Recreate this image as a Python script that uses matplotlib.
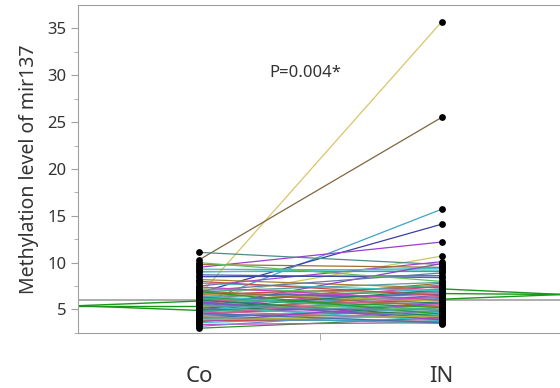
import matplotlib
matplotlib.use("Agg")
import matplotlib.pyplot as plt

plt.rcParams['font.family'] = ['Noto Sans', 'DejaVu Sans']

groups = ["Co", "IN"]

# paired values (Co, IN)
co = [6.5, 10.3, 5.6, 6.8, 9.5, 6.2, 11.1, 7.5, 9.3, 9.1, 9.0, 8.7, 8.2, 8.5, 5.2, 7.0,
      3.0, 3.4, 3.6, 3.8, 4.0, 4.1, 4.2, 4.3, 4.4, 4.5, 4.6, 4.7, 4.8, 4.9, 5.0, 5.0,
      5.1, 5.2, 5.3, 5.3, 5.4, 5.5, 5.5, 5.6, 5.7, 5.8, 5.8, 5.9, 6.0, 6.0, 6.1, 6.2,
      6.3, 6.4, 6.5, 6.6, 6.7, 6.8, 6.9, 7.0, 7.2, 3.2, 3.7, 4.0, 4.5, 5.1, 5.7, 6.2,
      6.9, 7.4, 7.8, 8.0, 3.9, 4.6, 5.4, 9.8, 10.0]
inn = [35.7, 25.5, 15.7, 14.1, 12.2, 10.7, 9.8, 10.1, 9.2, 9.1, 9.4, 8.4, 7.3, 8.6, 9.9, 8.9,
       4.1, 3.6, 4.4, 3.9, 4.6, 5.2, 3.5, 4.8, 6.1, 4.2, 5.5, 7.0, 4.0, 5.8, 6.5, 4.4,
       5.1, 7.5, 3.8, 6.0, 5.4, 6.8, 4.7, 7.8, 5.0, 6.3, 3.9, 7.2, 5.6, 4.3, 6.6, 7.6,
       5.2, 6.9, 4.6, 7.4, 5.9, 6.2, 7.9, 5.3, 6.7, 4.9, 5.7, 3.7, 6.4, 7.1, 4.1, 5.0,
       4.5, 6.0, 7.0, 6.5, 4.3, 3.6, 4.9, 9.5, 8.0]

top_colors = ["#d9c46a", "#806540", "#3ea3c6", "#3d3da6", "#9b3ed2", "#c9c85a", "#4f8a86",
              "#a046d0", "#3cbcc4", "#3aa0a8", "#48c0c8", "#4a5fb5", "#a8842f", "#3a48a0",
              "#9040c8", "#607aa0"]
palette = ["#2a9a2a", "#cc44bb", "#3cbfbf", "#c84c4c", "#b0b040", "#4a6fb0", "#5a9f9f",
           "#a07030", "#60c060", "#8080d0", "#9a3ed0", "#3fa2c4", "#d06090", "#208060",
           "#7060c0", "#40b080"]

# green reference lines and grand mean
left_green = [5.9, 5.4, 4.9]
right_green = [7.2, 6.7, 6.1]
grand_mean = 6.05

fig = plt.figure(figsize=(5.6, 3.88), dpi=100)
ax = fig.add_axes([0.139, 0.142, 0.866, 0.845])

ax.axhline(grand_mean, color="#a0a0a0", lw=1.2, zorder=1)
for y in left_green:
    ax.plot([0.5, 1], [5.4, y], color="#1a961a", lw=1.0, zorder=2)
for y in right_green:
    ax.plot([2, 2.5], [y, 6.6], color="#1a961a", lw=1.0, zorder=2)

for i, (a, b) in enumerate(zip(co, inn)):
    c = top_colors[i] if i < len(top_colors) else palette[i % len(palette)]
    ax.plot([1, 2], [a, b], color=c, lw=0.9, zorder=3)

ax.scatter([1] * len(co), co, s=24, color="black", zorder=4, lw=0)
ax.scatter([2] * len(inn), inn, s=24, color="black", zorder=4, lw=0)

ax.text(1.29, 30.2, "P=0.004*", fontsize=12, va="center", ha="left", color="#333333")

ax.set_xlim(0.5, 2.5)
ax.set_ylim(2.5, 37.5)
ax.set_xticks([1, 2])
ax.set_xticklabels(groups, fontsize=16, color="#333333")
ax.set_xticks([1.5], minor=True)
ax.tick_params(axis="x", which="major", length=0, pad=24)
ax.tick_params(axis="x", which="minor", length=5, color="#a0a0a0")
ax.set_yticks([5, 10, 15, 20, 25, 30, 35])
ax.set_yticks([2.5 + 5 * k for k in range(7)], minor=True)
ax.tick_params(axis="y", which="major", length=5, color="#a0a0a0", labelsize=12,
               labelcolor="#333333", pad=3)
ax.tick_params(axis="y", which="minor", length=3, color="#a0a0a0")
ax.set_ylabel("Methylation level of mir137", fontsize=14, labelpad=6, color="#333333")

for s in ["left", "bottom", "top"]:
    ax.spines[s].set_color("#a0a0a0")
ax.spines["right"].set_visible(False)

fig.savefig("out.png", dpi=100)
